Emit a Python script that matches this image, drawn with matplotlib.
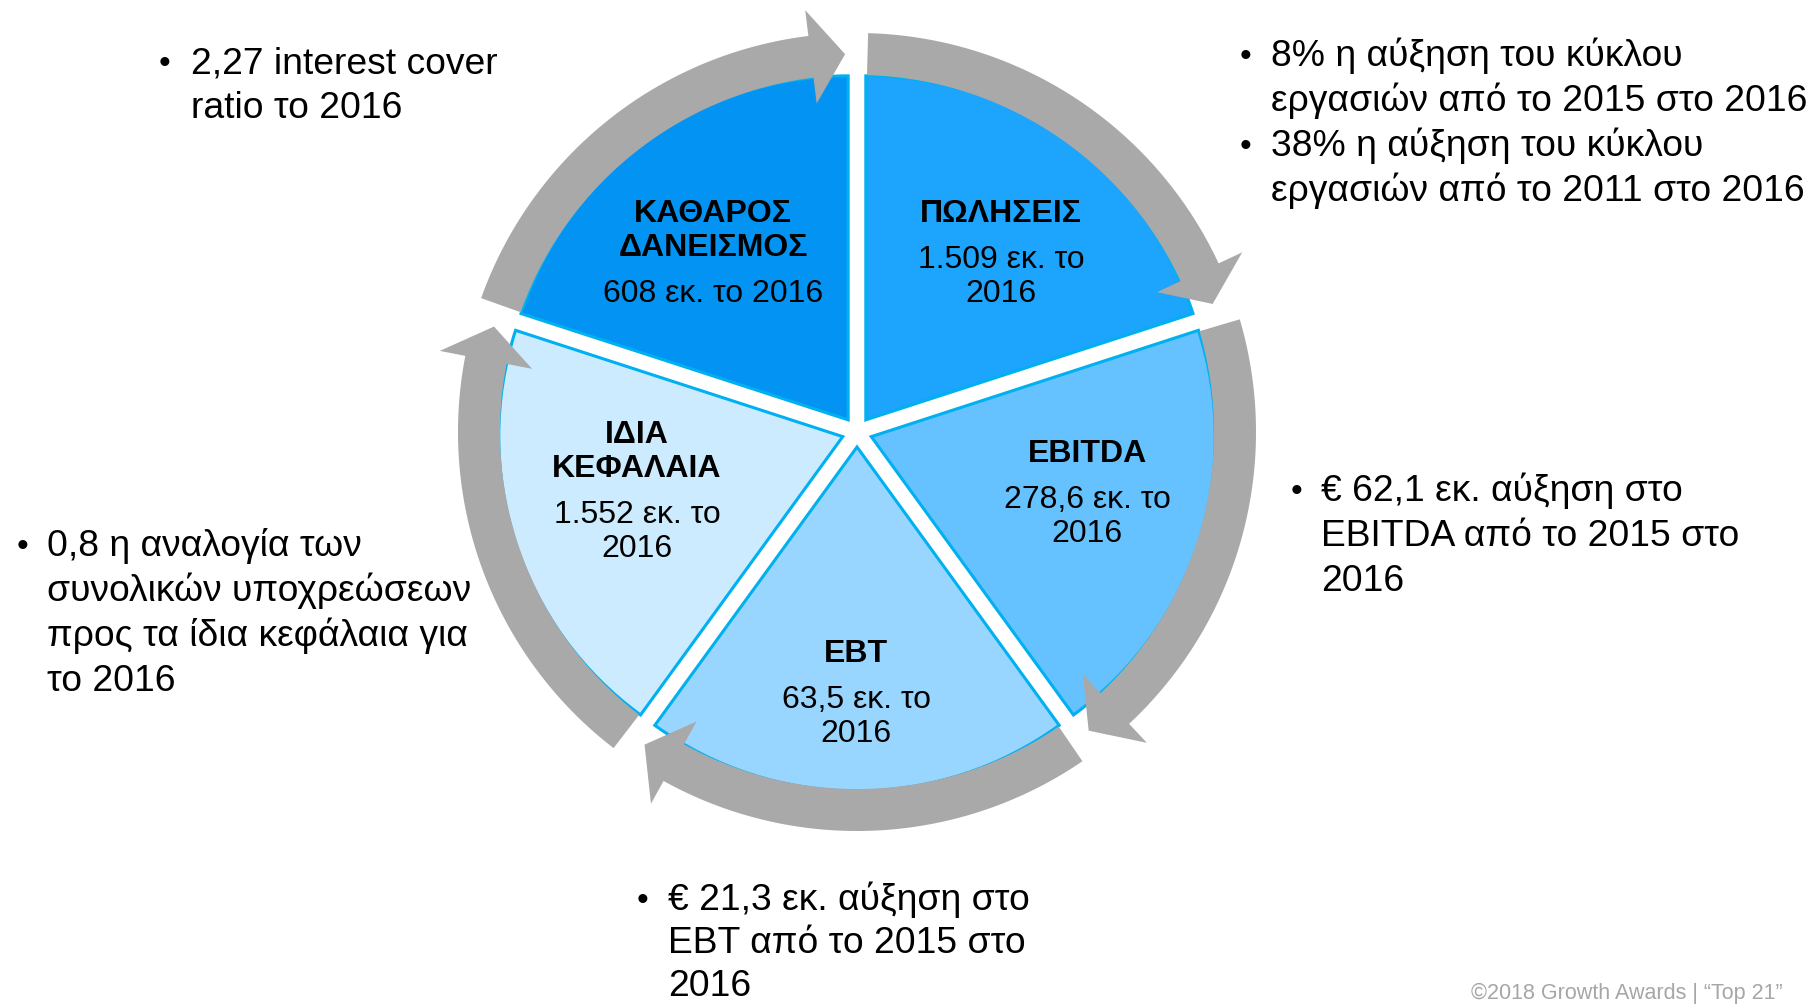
import numpy as np
import matplotlib
matplotlib.use("Agg")
import matplotlib.pyplot as plt
from matplotlib.patches import Wedge, Polygon

plt.rcParams['font.family'] = ['Liberation Sans', 'DejaVu Sans']

# data
categories = ["ΠΩΛΗΣΕΙΣ", "EBITDA", "EBT", "ΙΔΙΑ\nΚΕΦΑΛΑΙΑ", "ΚΑΘΑΡΟΣ\nΔΑΝΕΙΣΜΟΣ"]
values = ["1.509 εκ. το\n2016", "278,6 εκ. το\n2016", "63,5 εκ. το\n2016",
          "1.552 εκ. το\n2016", "608 εκ. το 2016"]
shares = [1, 1, 1, 1, 1]
colors = ["#1DA4FC", "#66C2FF", "#99D6FF", "#CCEBFF", "#0394F3"]

notes = [
    ["8% η αύξηση του κύκλου", "εργασιών από το 2015 στο 2016"],
    ["38% η αύξηση του κύκλου", "εργασιών από το 2011 στο 2016"],
    ["€ 62,1 εκ. αύξηση στο", "EBITDA από το 2015 στο", "2016"],
    ["€ 21,3 εκ. αύξηση στο", "EBT από το 2015 στο", "2016"],
    ["0,8 η αναλογία των", "συνολικών υποχρεώσεων", "προς τα ίδια κεφάλαια για", "το 2016"],
    ["2,27 interest cover", "ratio το 2016"],
]
footer = "©2018 Growth Awards | “Top 21”"

# layout (pixels from top-left)
W, H = 1812, 1005
cx, cy = 857, H - 432
R = 344          # wedge radius
explode = 15
r_in, r_out = 357, 399
r_mid = (r_in + r_out) / 2
head_half = 47
label_pos = [(1001, 211), (1087, 451), (856, 651), (637, 432), (713, 211)]
note_pos = [(1240, 1271, 53, 45), (1240, 1271, 143, 45), (1291, 1321, 488, 45),
            (637, 668, 897, 43), (17, 47, 543, 45), (159, 191, 60, 45)]

fig = plt.figure(figsize=(W / 100, H / 100), dpi=100)
ax = fig.add_axes([0, 0, 1, 1])
ax.set_xlim(0, W)
ax.set_ylim(0, H)
ax.axis('off')

sh = np.array(shares, dtype=float)
bounds = 90 - 360 * np.concatenate([[0], np.cumsum(sh)]) / sh.sum()


def arrow_poly(a_start, a_end):
    start = np.radians(a_start - 1.6)
    base = np.radians(a_end + 7)
    tip = np.radians(a_end + 1.8)
    th = np.linspace(start, base, 100)
    outer = np.c_[cx + r_out * np.cos(th), cy + r_out * np.sin(th)]
    inner = np.c_[cx + r_in * np.cos(th), cy + r_in * np.sin(th)][::-1]
    head = np.array([
        [cx + (r_mid + head_half) * np.cos(base), cy + (r_mid + head_half) * np.sin(base)],
        [cx + r_mid * np.cos(tip), cy + r_mid * np.sin(tip)],
        [cx + (r_mid - head_half) * np.cos(base), cy + (r_mid - head_half) * np.sin(base)],
    ])
    return np.vstack([outer, head, inner])


for i in range(len(categories)):
    a1, a2 = bounds[i + 1], bounds[i]
    mid = np.radians((a1 + a2) / 2)
    c = (cx + explode * np.cos(mid), cy + explode * np.sin(mid))
    ax.add_patch(Wedge(c, R, a1, a2, facecolor=colors[i], edgecolor="#00B0F0",
                       lw=2.2, zorder=2))
    ax.add_patch(Polygon(arrow_poly(a2, a1), closed=True, facecolor="#A9A9A9",
                         edgecolor="none", zorder=3))

    x, y = label_pos[i]
    lines = categories[i].split("\n")
    for j, t in enumerate(lines):
        ax.text(x, H - (y + 34 * j) - 11, t, ha='center', va='baseline',
                fontsize=23, fontweight='bold', color='black', zorder=4)
    y2 = y + 34 * (len(lines) - 1) + 46
    for j, t in enumerate(values[i].split("\n")):
        ax.text(x, H - (y2 + 34 * j) - 11, t, ha='center', va='baseline',
                fontsize=23, color='black', zorder=4)

for lines, (bx, tx, y, step) in zip(notes, note_pos):
    ax.text(bx, H - y - 13, "•", ha='left', va='baseline', fontsize=24, color='black')
    for j, t in enumerate(lines):
        ax.text(tx, H - (y + step * j) - 13, t, ha='left', va='baseline',
                fontsize=26.8, color='black')

ax.text(1783, H - 999, footer, ha='right', va='baseline', fontsize=15.5, color="#A6A6A6")

fig.savefig("out.png", dpi=100)
